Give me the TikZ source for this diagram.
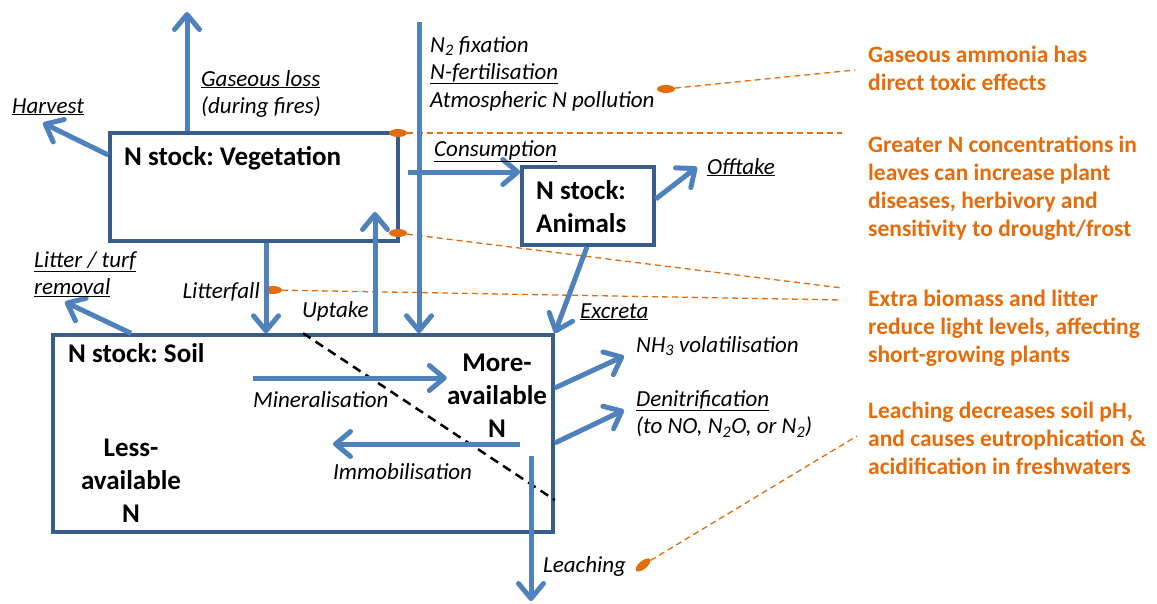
\documentclass[tikz,border=0pt]{standalone}
\usepackage{fontspec}
\setmainfont{Carlito}
\usepackage{xcolor}
\usetikzlibrary{arrows.meta, shapes.geometric}
\definecolor{FlowBlue}{HTML}{4F81BD}
\definecolor{BoxBlue}{HTML}{385D8A}
\definecolor{NoteOrange}{HTML}{E46C0A}
\frenchspacing
\tikzset{
    % Node styles
    stockbox/.style={
        rectangle,
        draw=BoxBlue,
        fill=white,
        line width=3.5pt,
        inner sep=0pt
    },
    stocktext/.style={
        inner sep=0pt,
        font=\fontsize{27}{33}\selectfont\bfseries
    },
    flowlabel/.style={
        inner sep=0pt,
        align=left,
        font=\fontsize{23}{27.5}\selectfont\itshape
    },
    notetext/.style={
        inner sep=0pt,
        align=left,
        text=NoteOrange,
        font=\fontsize{23.5}{28}\selectfont\bfseries
    },
    notedot/.style={
        ellipse,
        fill=NoteOrange,
        minimum width=18pt,
        minimum height=8pt,
        inner sep=0pt
    },
    % Arrow styles
    flow/.style={
        -{Straight Barb[round,length=15pt,width=25pt]},
        line width=5pt,
        FlowBlue
    },
    noteline/.style={
        dash pattern=on 6pt off 4pt,
        line width=1.3pt,
        NoteOrange
    },
    divide/.style={
        dash pattern=on 9pt off 6pt,
        line width=2.5pt,
        black
    }
}

\begin{document}
\begin{tikzpicture}[x=1pt,y=-1pt]
    \useasboundingbox (0,0) rectangle (1157,603);

    % N stocks
    \node[stockbox,minimum width=288pt,minimum height=108pt] (veg) at (254,187) {};
    \node[stockbox,minimum width=132pt,minimum height=78pt] (ani) at (588,206) {};
    \node[stockbox,minimum width=500pt,minimum height=197pt] (soil) at (303,433.5) {};
    \node[stocktext,anchor=base west] (vegname) at (124,165) {N stock: Vegetation};
    \node[stocktext,anchor=base west,align=left] (aniname) at (536,232) {N stock:\\Animals};
    \node[stocktext,anchor=base west] (soilname) at (68,362) {N stock: Soil};
    \node[stocktext,anchor=base,align=center] (more) at (497,437) {More-\\available\\N};
    \node[stocktext,anchor=base,align=center] (less) at (131,522) {Less-\\available\\N};

    % Free ends of the flows
    \coordinate (gastip) at (187,12);
    \coordinate (harvtip) at (43,123);
    \coordinate (intop) at (419,22);
    \coordinate (constart) at (408,172);
    \coordinate (offtip) at (697,167);
    \coordinate (uptip) at (375,212);
    \coordinate (littip) at (65,302);
    \coordinate (minstart) at (253,378);
    \coordinate (immstart) at (520,444);
    \coordinate (immtip) at (333,444);
    \coordinate (leachstart) at (531,456);
    \coordinate (leachtip) at (531,601);
    \coordinate (nhtip) at (624,356);
    \coordinate (dentip) at (624,410);

    % Orange notes
    \node[notetext,anchor=base west] (note1) at (868,90) {Gaseous ammonia has\\direct toxic effects};
    \node[notetext,anchor=base west] (note2) at (868,236) {Greater N concentrations in\\leaves can increase plant\\diseases, herbivory and\\sensitivity to drought/frost};
    \node[notetext,anchor=base west] (note3) at (868,362) {Extra biomass and litter\\reduce light levels, affecting\\short-growing plants};
    \node[notetext,anchor=base west] (note4) at (868,474) {Leaching decreases soil pH,\\and causes eutrophication \&\\acidification in freshwaters};

    \node[notedot] (dotgas) at (666,89) {};
    \node[notedot] (dotvegtop) at (398,133) {};
    \node[notedot] (dotvegbot) at (398,233) {};
    \node[notedot] (dotlit) at (273,290) {};
    \node[notedot,rotate=40] (dotleach) at (643,565) {};

    \coordinate (end1) at (855,70);
    \coordinate (end2) at (842,133);
    \coordinate (end3) at (842,288);
    \coordinate (end4) at (842,300);
    \coordinate (end5) at (857,436);

    \draw[noteline] (dotgas) -- (end1);
    \draw[noteline] (dotvegtop) -- (end2);
    \draw[noteline] (dotvegbot) -- (end3);
    \draw[noteline] (dotlit) -- (end4);
    \draw[noteline] (dotleach) -- (end5);

    % Divide between less- and more-available N
    \draw[divide] (soil.north -| 303,0) -- (soil.east |- 0,500);

    % Flows
    \draw[flow] (veg.north -| gastip) -- (gastip);
    \draw[flow] (veg.west |- 0,155) -- (harvtip);
    \draw[flow] (intop) -- (soil.north -| intop);
    \draw[flow] (constart) -- (ani.west |- constart);
    \draw[flow] (ani.east |- 0,199) -- (offtip);
    \draw[flow] (ani.south -| 587,0) -- (soil.north east);
    \draw[flow] (veg.south -| 266,0) -- (soil.north -| 266,0);
    \draw[flow] (soil.north -| uptip) -- (uptip);
    \draw[flow] (soil.north -| 131,0) -- (littip);
    \draw[flow] (minstart) -- (more.west |- minstart);
    \draw[flow] (immstart) -- (immtip);
    \draw[flow] (leachstart) -- (leachtip);
    \draw[flow] (soil.east |- 0,388) -- (nhtip);
    \draw[flow] (soil.east |- 0,443) -- (dentip);

    % Flow labels
    \node[flowlabel,anchor=base west] (gaslbl) at (201,113.5) {\underline{Gaseous loss}\\(during fires)};
    \node[flowlabel,anchor=base west] (harvlbl) at (12,113) {\underline{Harvest}};
    \node[flowlabel,anchor=base west] (inlbl) at (430,107) {N\textsubscript{2} fixation\\\underline{N-fertilisation}\\Atmospheric N pollution};
    \node[flowlabel,anchor=base west] (conslbl) at (434,156) {\underline{Consumption}};
    \node[flowlabel,anchor=base west] (offlbl) at (707,174) {\underline{Offtake}};
    \node[flowlabel,anchor=base west] (exclbl) at (580,318) {\underline{Excreta}};
    \node[flowlabel,anchor=base east] (litfalllbl) at (260,298) {Litterfall};
    \node[flowlabel,anchor=base west] (uplbl) at (302,317) {Uptake};
    \node[flowlabel,anchor=base west] (litremlbl) at (34,294.5) {\underline{Litter / turf}\\\underline{removal}};
    \node[flowlabel,anchor=base west] (minlbl) at (253,407) {Mineralisation};
    \node[flowlabel,anchor=base west] (immlbl) at (333,479) {Immobilisation};
    \node[flowlabel,anchor=base west] (leachlbl) at (543,572) {Leaching};
    \node[flowlabel,anchor=base west] (nhlbl) at (636,352) {NH\textsubscript{3} volatilisation};
    \node[flowlabel,anchor=base west] (denlbl) at (636,433.5) {\underline{Denitrification}\\(to NO, N\textsubscript{2}O, or N\textsubscript{2})};
\end{tikzpicture}
\end{document}
